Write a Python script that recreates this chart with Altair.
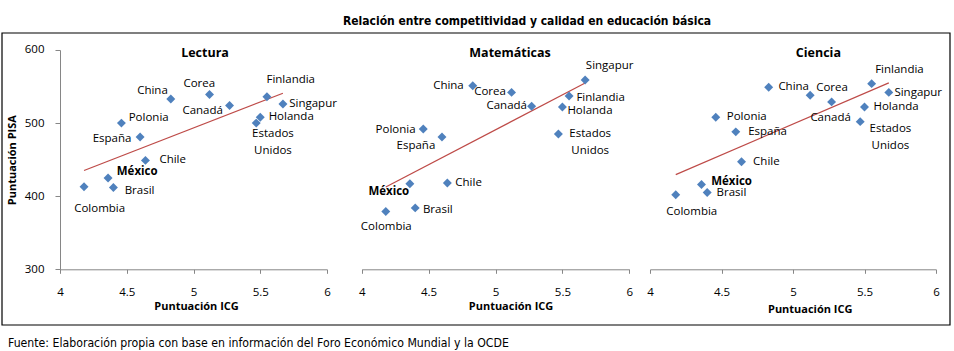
import altair as alt
import pandas as pd

# ---------------- data ----------------
paises = ["Colombia", "México", "Brasil", "Polonia", "España", "Chile", "China",
          "Corea", "Canadá", "Estados Unidos", "Holanda", "Finlandia", "Singapur"]
icg = [4.18, 4.36, 4.40, 4.46, 4.60, 4.64, 4.83, 5.12, 5.27, 5.47, 5.50, 5.55, 5.67]
lectura = [413, 425, 412, 500, 481, 449, 533, 539, 524, 500, 508, 536, 526]
matematicas = [379, 417, 384, 492, 481, 418, 551, 542, 523, 485, 522, 537, 559]
ciencia = [402, 416, 405, 508, 488, 447, 549, 538, 529, 502, 522, 554, 542]

paneles = ["Lectura", "Matemáticas", "Ciencia"]
ticks_x = [4, 4.5, 5, 5.5, 6]
ticks_y = [300, 350, 400, 450, 500, 550, 600]

titulo = "Relación entre competitividad y calidad en educación básica"
fuente = "Fuente: Elaboración propia con base en información del Foro Económico Mundial y la OCDE"
eje_x = "Puntuación ICG"
eje_y = "Puntuación PISA"

# ---------------- label placement (styling only, pixel offsets) ----------------
etiquetas = {
    "Lectura": [("center", 15.6, 22.7), ("left", 8.7, -6.3), ("left", 11.3, 3.3),
                ("left", 7.3, -5), ("right", -8.7, 1.7), ("left", 14, 0),
                ("right", -3, -8.3), ("center", -10.3, -11), ("right", -6.7, 5.3),
                ("center", 16.7, 11), ("left", 8.4, 0), ("center", 23.8, -16.3),
                ("left", 6.3, 0)],
    "Matemáticas": [("center", 0.5, 15.6), ("right", -0.7, 8.7), ("left", 7.7, 2.3),
                    ("right", -7.7, 1), ("right", -6.7, 9.3), ("left", 8, 0),
                    ("right", -9, 0), ("right", -5.7, 0), ("right", -4.7, 0),
                    ("center", 31.8, 0.4), ("left", 5, 4.3), ("left", 7.3, 2),
                    ("center", 24.5, -14.3)],
    "Ciencia": [("center", 16, 17.7), ("left", 9.7, -2.3), ("left", 9.4, 0.7),
                ("left", 11, -0.6), ("left", 12.4, 0), ("left", 11.6, 0),
                ("left", 9.7, 0), ("left", 6, -7.6), ("center", -1, 16),
                ("center", 30.2, 7), ("left", 9, 0.4), ("center", 27.8, -13.3),
                ("left", 5.6, 0.4)],
}

AZUL = "#4F81BD"
ROJO = "#BE4B48"
GRIS = "#868686"
FONT = "Open Sans"
NARROW = "Liberation Sans Narrow, DejaVu Sans Condensed, Arial Narrow, sans-serif"

H = 219.3
# (group width, left inset of the x range) per panel
anchos = [267, 282.3, 286]
inset = [0, 14.7, 0]
titulo_x = [145, 148.3, 168.4]
ejex_tx = [136, 148.8, 159.7]
ejex_ty = [37.7, 37.7, 40]


def panel(idx, scores):
    nombre = paneles[idx]
    w = anchos[idx]
    off = inset[idx]
    px_x = (w - off) / 2.0      # pixels per ICG unit
    px_y = H / 300.0            # pixels per PISA point
    place = etiquetas[nombre]
    df = pd.DataFrame({"pais": paises, "icg": icg, "score": scores})
    df["align"] = [p[0] for p in place]
    df["dx"] = [p[1] for p in place]
    df["dy"] = [p[2] for p in place]
    df["bold"] = [p == "México" for p in paises]

    xs = alt.Scale(domain=[4, 6], nice=False, zero=False, range=[off, w])
    ys = alt.Scale(domain=[300, 600], nice=False, zero=False)
    xaxis = alt.Axis(values=ticks_x, format="~g", title=eje_x, grid=False,
                     domainColor=GRIS, tickColor=GRIS, tickSize=4,
                     labelFont=FONT, labelFontSize=11.5, labelColor="black",
                     labelBaseline="middle", labelPadding=19.5, labelFlush=False,
                     titleFont=FONT, titleFontSize=11, titleFontWeight="bold",
                     titleColor="black", titleX=ejex_tx[idx] + off, titleY=ejex_ty[idx],
                     titleBaseline="middle", titleAlign="center")
    if idx == 0:
        yaxis = alt.Axis(values=ticks_y, title=eje_y, grid=False,
                         domainColor=GRIS, tickColor=GRIS, tickSize=5,
                         labelFont=FONT, labelFontSize=11.5, labelColor="black",
                         labelPadding=11, titleFont=FONT, titleFontSize=11,
                         titleFontWeight="bold", titleColor="black",
                         titleX=-48, titleY=H / 2, titleBaseline="middle",
                         titleAlign="center", titleAngle=270)
    else:
        yaxis = None

    base = alt.Chart(df)
    trend = base.transform_regression("icg", "score").mark_line(
        color=ROJO, strokeWidth=1.2).encode(
        x=alt.X("icg:Q", scale=xs, axis=xaxis),
        y=alt.Y("score:Q", scale=ys, axis=yaxis))
    pts = base.mark_point(shape="diamond", filled=True, size=80, color=AZUL,
                          opacity=1).encode(x="icg:Q", y="score:Q")
    layers = [trend, pts]
    for a in ["left", "center", "right"]:
        for b in [False, True]:
            sub = df[(df["align"] == a) & (df["bold"] == b)]
            if len(sub) == 0:
                continue
            layers.append(
                alt.Chart(sub).transform_calculate(
                    lx=f"datum.icg + datum.dx / {px_x}",
                    ly=f"datum.score - datum.dy / {px_y}").mark_text(
                    align=a, baseline="middle", font=FONT, fontSize=11.5,
                    fontWeight="bold" if b else "normal", lineBreak=" ",
                    lineHeight=17, color="black").encode(
                    x="lx:Q", y="ly:Q", text="pais:N"))
    layers.append(
        alt.Chart(pd.DataFrame({"t": [nombre]})).mark_text(
            align="center", baseline="middle", font=FONT, fontSize=12.5,
            fontWeight="bold", color="black").encode(
            x=alt.value(titulo_x[idx] + off), y=alt.value(3.3), text="t:N"))
    if idx == 0:
        # page-level decorations anchored to the first panel
        layers.append(alt.Chart(pd.DataFrame({"a": [0]})).mark_rect(
            fill="white", fillOpacity=0, strokeOpacity=0).encode(
            x=alt.value(-60), x2=alt.value(894), y=alt.value(-50), y2=alt.value(301)))
        layers.append(alt.Chart(pd.DataFrame({"a": [0]})).mark_rect(
            filled=False, stroke="black", strokeWidth=1.2).encode(
            x=alt.value(-58), x2=alt.value(890), y=alt.value(-17), y2=alt.value(275)))
        layers.append(alt.Chart(pd.DataFrame({"t": [titulo]})).mark_text(
            align="center", baseline="middle", font=NARROW, fontSize=12,
            fontWeight="bold", color="black").encode(
            x=alt.value(467), y=alt.value(-29.3), text="t:N"))
        layers.append(alt.Chart(pd.DataFrame({"t": [fuente]})).mark_text(
            align="left", baseline="middle", font=NARROW, fontSize=12.2,
            color="black").encode(
            x=alt.value(-52), y=alt.value(293), text="t:N"))
    return alt.layer(*layers).properties(width=w, height=H)


p1 = panel(0, lectura)
p2 = panel(1, matematicas)
p3 = panel(2, ciencia)

chart = alt.hconcat(p1, p2, p3, spacing=20, bounds="flush").properties(
    padding=0, background="white").configure_view(stroke=None)

chart.save("out.html", embed_options={"renderer": "svg", "actions": False})
